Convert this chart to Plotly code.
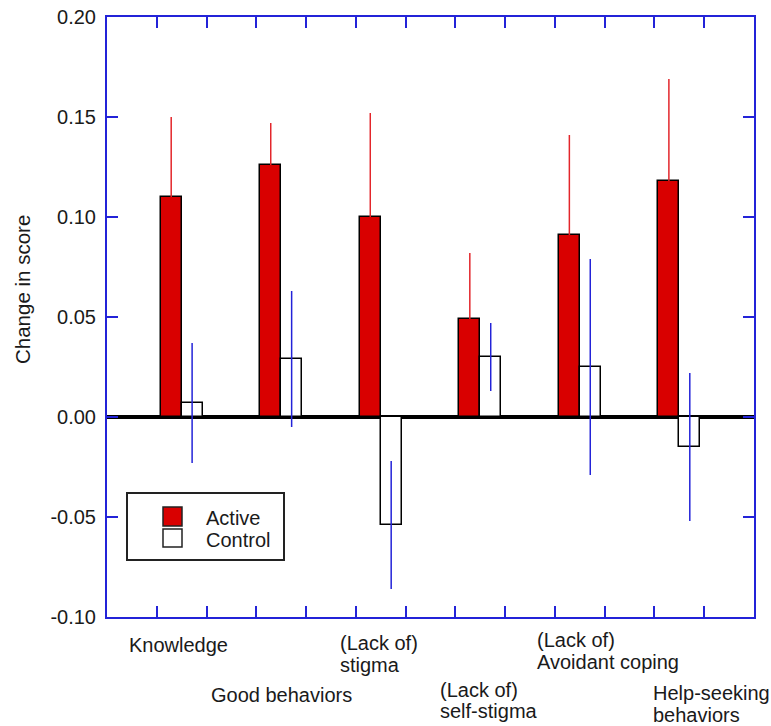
import plotly.graph_objects as go

# ---------------- data ----------------
categories = ["Knowledge", "Good behaviors", "(Lack of) stigma",
              "(Lack of) self-stigma", "(Lack of) Avoidant coping",
              "Help-seeking behaviors"]
label_lines = [["Knowledge"], ["Good behaviors"], ["(Lack of)", "stigma"],
               ["(Lack of)", "self-stigma"], ["(Lack of)", "Avoidant coping"],
               ["Help-seeking", "behaviors"]]
active = [0.110, 0.126, 0.100, 0.049, 0.091, 0.118]
active_err = [0.040, 0.021, 0.052, 0.033, 0.050, 0.051]
control = [0.007, 0.029, -0.054, 0.030, 0.025, -0.015]
control_err = [0.030, 0.034, 0.032, 0.017, 0.054, 0.037]
y_ticks = [-0.10, -0.05, 0.00, 0.05, 0.10, 0.15, 0.20]
y_tick_text = ["-0.10", "-0.05", "0.00", "0.05", "0.10", "0.15", "0.20"]
series_names = ["Active", "Control"]

# ---------------- layout constants ----------------
W, H = 771, 726
ML, MR, MT, MB = 107, 17, 17, 109
PW, PH = W - ML - MR, H - MT - MB
AXIS_BLUE = "#2323d8"
RED = "#d90000"
RED_ERR = "#e3262b"
BAR_W = 0.42
FONT = "Arial, Liberation Sans, sans-serif"
FS = 20
TXT = "#1a1a1a"

def xp(px):  # pixel -> paper x
    return (px - ML) / PW

def yp(py):  # pixel -> paper y
    return (MT + PH - py) / PH

group_x = [1.5 + 2 * i for i in range(len(categories))]

fig = go.Figure()
fig.add_trace(go.Bar(
    x=group_x, y=active, name=series_names[0],
    width=BAR_W, offset=-BAR_W,
    marker=dict(color=RED, line=dict(color="black", width=1.5)),
    error_y=dict(type="data", array=active_err,
                 arrayminus=[0] * len(active_err), symmetric=False,
                 color=RED_ERR, thickness=1.5, width=0),
    showlegend=False,
))
fig.add_trace(go.Bar(
    x=group_x, y=control, name=series_names[1],
    width=BAR_W, offset=0,
    marker=dict(color="white", line=dict(color="black", width=1.5)),
    error_y=dict(type="data", array=control_err, symmetric=True,
                 color=AXIS_BLUE, thickness=1.5, width=0),
    showlegend=False,
))

axis_common = dict(showline=True, linecolor=AXIS_BLUE, linewidth=2,
                   mirror="ticks", ticks="inside", tickcolor=AXIS_BLUE,
                   tickwidth=1.5, ticklen=11, showgrid=False,
                   automargin=False)

fig.update_xaxes(range=[0, 13], tickvals=list(range(1, 13)),
                 showticklabels=False, zeroline=False, **axis_common)
fig.update_yaxes(range=[y_ticks[0], y_ticks[-1]], tickvals=y_ticks,
                 ticktext=y_tick_text, ticklabelstandoff=5,
                 tickfont=dict(family=FONT, size=FS, color=TXT),
                 zeroline=True, zerolinecolor="black", zerolinewidth=4,
                 **axis_common)

annotations = []
# y axis title
annotations.append(dict(text="Change in score", textangle=-90,
                        x=xp(22), y=yp(290), xref="paper", yref="paper",
                        xanchor="center", yanchor="middle", showarrow=False,
                        font=dict(family=FONT, size=20.5, color=TXT)))

# category labels (staggered, left-aligned)
label_left_px = [128, 210, 339, 439, 536, 652]
label_baseline_px = [[652], [702], [650, 672], [697, 718], [647, 669], [700, 722]]
for lines, lx, bases in zip(label_lines, label_left_px, label_baseline_px):
    for line, b in zip(lines, bases):
        annotations.append(dict(text=line, x=xp(lx), y=yp(b - 7),
                                xref="paper", yref="paper",
                                xanchor="left", yanchor="middle",
                                showarrow=False, borderpad=0,
                                font=dict(family=FONT, size=FS, color=TXT)))

# legend (drawn manually to match the boxed legend)
shapes = []
shapes.append(dict(type="rect", xref="paper", yref="paper",
                   x0=xp(127), x1=xp(284), y0=yp(493), y1=yp(560),
                   line=dict(color="#222", width=2), fillcolor="white",
                   layer="above"))
swatches = [(RED, 507, 526), ("white", 529, 547)]
for (col, t, b) in swatches:
    shapes.append(dict(type="rect", xref="paper", yref="paper",
                       x0=xp(163), x1=xp(182), y0=yp(t), y1=yp(b),
                       line=dict(color="#222", width=1.5), fillcolor=col,
                       layer="above"))
for name, cy in zip(series_names, [518, 540]):
    annotations.append(dict(text=name, x=xp(205), y=yp(cy),
                            xref="paper", yref="paper",
                            xanchor="left", yanchor="middle",
                            showarrow=False, borderpad=0,
                            font=dict(family=FONT, size=FS, color=TXT)))

fig.update_layout(
    width=W, height=H,
    margin=dict(l=ML, r=MR, t=MT, b=MB, autoexpand=False),
    paper_bgcolor="white", plot_bgcolor="white",
    barmode="overlay", bargap=0,
    font=dict(family=FONT, size=FS, color=TXT),
    annotations=annotations, shapes=shapes,
)

fig.write_html("out.html",
               config={"displayModeBar": False},
               post_script="document.body.style.margin='0';"
                           "document.body.style.padding='0';")
